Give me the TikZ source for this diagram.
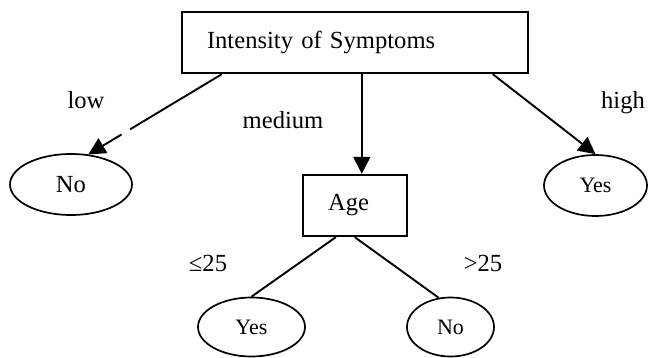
\documentclass[tikz,border=0pt]{standalone}
\usepackage{fontspec}
\setmainfont{Liberation Serif}
\usetikzlibrary{arrows.meta,shapes.geometric,calc}
\tikzset{
  bigtxt/.style={font=\fontsize{24.6}{28}\selectfont},
  smalltxt/.style={font=\fontsize{22}{26}\selectfont},
  decbox/.style={draw, line width=2.4pt, minimum height=61pt, inner ysep=0pt, inner xsep=25pt, align=left, bigtxt},
  leaf/.style={draw, ellipse, line width=1.7pt, inner sep=0pt},
  edge/.style={line width=1.9pt},
  arr/.style={edge, -{Triangle[length=17pt,width=17pt]}},
  lbl/.style={anchor=base, inner sep=0pt, bigtxt}
}
\begin{document}
\begin{tikzpicture}[x=1pt,y=-1pt]
\useasboundingbox (0,0) rectangle (648,358);
\node[decbox, text width=296pt] (top) at (355,42.5) {Intensity of Symptoms};
\node[decbox, text width=54pt] (age) at (355,205.5) {Age};
\node[leaf, bigtxt, minimum width=122pt, minimum height=61pt] (noL) at (71,184.5) {No};
\node[leaf, smalltxt, minimum width=103pt, minimum height=61pt] (yesR) at (595.5,185.5) {Yes};
\node[leaf, smalltxt, minimum width=107pt, minimum height=59pt] (yesB) at (251.5,327) {Yes};
\node[leaf, smalltxt, minimum width=87pt, minimum height=59pt] (noB) at (450.5,327) {No};

\draw[arr, dash pattern=on 107pt off 10pt on 300pt] ($(top.south west)+(41,0)$) -- (noL.60);
\draw[arr] ($(top.south west)+(181,0)$) coordinate (m) -- (m |- age.north);
\draw[arr] ($(top.south west)+(312,0)$) -- (yesR.north);
\draw[edge] ($(age.south west)+(34,0)$) -- (yesB.north);
\draw[edge] ($(age.south west)+(53,0)$) -- (noB.112);

\node[lbl] (llow) at (86,109) {low};
\node[lbl] (lmed) at (283,129) {medium};
\node[lbl] (lhigh) at (623,109) {high};
\node[lbl] (lle) at (208,271) {≤25};
\node[lbl] (lgt) at (483,271) {>25};
\end{tikzpicture}
\end{document}
